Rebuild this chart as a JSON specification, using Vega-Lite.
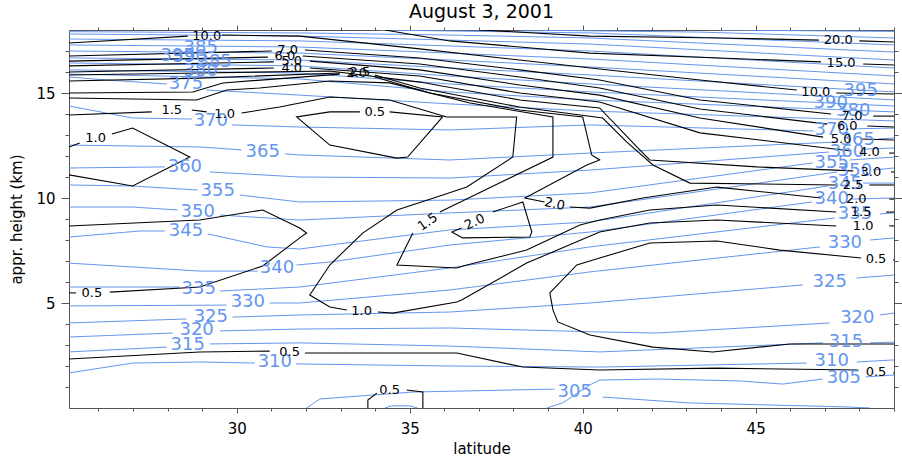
{
"$schema": "https://vega.github.io/schema/vega-lite/v6.json",
"width": 825, "height": 378,
"autosize": "none",
"padding": {"left": 69, "top": 30, "right": 8, "bottom": 50},
"background": "white",
"title": {"text": "August 3, 2001", "font": "DejaVu Sans", "fontSize": 19, "fontWeight": "normal", "color": "#000", "offset": 3},
"config": {
 "view": {"stroke": "#555", "strokeWidth": 1},
 "axis": {"grid": false, "domain": false, "tickColor": "#555", "labelColor": "#000", "labelFont": "DejaVu Sans", "labelFontSize": 15, "titleFont": "DejaVu Sans", "titleFontSize": 15, "titleFontWeight": "normal", "titleColor": "#000"}
},
"resolve": {"axis": {"x": "independent", "y": "independent"}},
"datasets": {
"k": [
{"c":"k1","x":37.03,"y":18.0},{"c":"k1","x":40.21,"y":17.71},{"c":"k1","x":43.96,"y":17.62},{"c":"k1","x":46.83,"y":17.52},
{"c":"k2","x":48.0,"y":17.48},{"c":"k2","x":49.0,"y":17.43},
{"c":"k3","x":34.28,"y":18.0},{"c":"k3","x":36.16,"y":17.48},{"c":"k3","x":40.21,"y":16.9},{"c":"k3","x":43.96,"y":16.67},{"c":"k3","x":46.89,"y":16.48},
{"c":"k4","x":48.11,"y":16.38},{"c":"k4","x":49.0,"y":16.33},
{"c":"k5","x":25.15,"y":17.38},{"c":"k5","x":28.58,"y":17.71},
{"c":"k6","x":29.57,"y":17.76},{"c":"k6","x":31.82,"y":17.71},{"c":"k6","x":35.29,"y":17.1},{"c":"k6","x":38.18,"y":16.57},{"c":"k6","x":40.49,"y":16.14},{"c":"k6","x":43.39,"y":15.62},{"c":"k6","x":46.19,"y":15.14},
{"c":"k7","x":47.33,"y":15.0},{"c":"k7","x":49.0,"y":14.95},
{"c":"k8","x":25.15,"y":16.76},{"c":"k8","x":31.01,"y":17.0},
{"c":"k9","x":31.97,"y":17.05},{"c":"k9","x":35.29,"y":16.67},{"c":"k9","x":38.18,"y":16.1},{"c":"k9","x":40.49,"y":15.62},{"c":"k9","x":43.39,"y":14.67},{"c":"k9","x":47.18,"y":14.0},
{"c":"k10","x":48.4,"y":13.9},{"c":"k10","x":49.0,"y":13.9},
{"c":"k11","x":25.15,"y":16.52},{"c":"k11","x":30.9,"y":16.71},
{"c":"k12","x":31.91,"y":16.76},{"c":"k12","x":35.29,"y":16.38},{"c":"k12","x":38.18,"y":15.76},{"c":"k12","x":40.49,"y":15.24},{"c":"k12","x":43.39,"y":14.24},{"c":"k12","x":47.07,"y":13.52},
{"c":"k13","x":48.23,"y":13.43},{"c":"k13","x":49.0,"y":13.38},
{"c":"k14","x":25.15,"y":16.29},{"c":"k14","x":31.07,"y":16.48},
{"c":"k15","x":32.11,"y":16.52},{"c":"k15","x":35.29,"y":16.1},{"c":"k15","x":38.18,"y":15.38},{"c":"k15","x":40.49,"y":14.9},{"c":"k15","x":43.39,"y":13.81},{"c":"k15","x":46.95,"y":12.9},
{"c":"k16","x":48.05,"y":12.81},{"c":"k16","x":49.0,"y":12.76},
{"c":"k17","x":25.15,"y":16.0},{"c":"k17","x":31.07,"y":16.19},
{"c":"k18","x":32.11,"y":16.19},{"c":"k18","x":35.29,"y":15.81},{"c":"k18","x":38.18,"y":15.0},{"c":"k18","x":40.49,"y":14.57},{"c":"k18","x":43.39,"y":13.1},{"c":"k18","x":47.76,"y":12.24},
{"c":"k19","x":48.86,"y":12.14},{"c":"k19","x":49.0,"y":12.14},
{"c":"k20","x":25.15,"y":15.86},{"c":"k20","x":28.93,"y":15.95},{"c":"k20","x":32.69,"y":16.05},{"c":"k20","x":35.29,"y":15.52},{"c":"k20","x":38.18,"y":14.67},{"c":"k20","x":40.49,"y":14.29},{"c":"k20","x":41.65,"y":12.29},{"c":"k20","x":41.94,"y":11.81},{"c":"k20","x":45.03,"y":11.48},{"c":"k20","x":47.82,"y":11.29},
{"c":"k21","x":48.92,"y":11.24},{"c":"k21","x":49.0,"y":11.24},
{"c":"k22","x":25.15,"y":15.57},{"c":"k22","x":28.93,"y":15.71},{"c":"k22","x":32.98,"y":15.95},
{"c":"k23","x":33.99,"y":15.86},{"c":"k23","x":35.29,"y":15.24},{"c":"k23","x":38.18,"y":14.33},{"c":"k23","x":40.58,"y":13.81},{"c":"k23","x":41.27,"y":12.67},{"c":"k23","x":42.03,"y":11.57},{"c":"k23","x":43.1,"y":10.71},{"c":"k23","x":47.33,"y":10.62},
{"c":"k24","x":48.29,"y":10.62},{"c":"k24","x":49.0,"y":10.62},
{"c":"k25","x":25.15,"y":15.0},{"c":"k25","x":28.73,"y":15.05},{"c":"k25","x":29.6,"y":15.48},{"c":"k25","x":32.98,"y":15.9},
{"c":"k26","x":33.99,"y":15.76},{"c":"k26","x":35.58,"y":15.0},{"c":"k26","x":38.18,"y":14.19},{"c":"k26","x":40.0,"y":13.86},{"c":"k26","x":40.26,"y":12.05},{"c":"k26","x":40.49,"y":11.81},{"c":"k26","x":40.12,"y":11.57},{"c":"k26","x":38.33,"y":10.0},{"c":"k26","x":38.9,"y":9.81},
{"c":"k27","x":39.63,"y":9.57},{"c":"k27","x":40.21,"y":9.52},{"c":"k27","x":41.74,"y":10.0},{"c":"k27","x":43.88,"y":10.52},{"c":"k27","x":46.89,"y":10.0},
{"c":"k28","x":48.86,"y":9.95},{"c":"k28","x":49.0,"y":9.95},
{"c":"k29","x":25.15,"y":14.76},{"c":"k29","x":28.84,"y":14.67},{"c":"k29","x":29.71,"y":15.14},{"c":"k29","x":30.66,"y":15.24},{"c":"k29","x":32.69,"y":15.57},{"c":"k29","x":34.42,"y":15.48},{"c":"k29","x":36.74,"y":14.52},{"c":"k29","x":39.14,"y":13.86},{"c":"k29","x":39.14,"y":11.95},{"c":"k29","x":35.87,"y":9.33},
{"c":"k30","x":35.09,"y":8.33},{"c":"k30","x":34.63,"y":6.81},{"c":"k30","x":36.36,"y":6.67},{"c":"k30","x":36.65,"y":6.81},{"c":"k30","x":38.38,"y":7.52},{"c":"k30","x":39.92,"y":8.71},{"c":"k30","x":40.49,"y":8.95},{"c":"k30","x":41.94,"y":9.43},{"c":"k30","x":43.88,"y":9.67},{"c":"k30","x":47.33,"y":9.33},
{"c":"k31","x":48.77,"y":9.33},{"c":"k31","x":49.0,"y":9.33},
{"c":"k32","x":25.15,"y":13.95},{"c":"k32","x":27.54,"y":14.1},
{"c":"k33","x":28.7,"y":14.19},{"c":"k33","x":29.13,"y":14.1},
{"c":"k34","x":30.14,"y":14.05},{"c":"k34","x":31.24,"y":14.33},{"c":"k34","x":32.69,"y":14.81},{"c":"k34","x":34.42,"y":14.67},{"c":"k34","x":36.07,"y":13.86},{"c":"k34","x":38.09,"y":13.86},{"c":"k34","x":37.98,"y":11.95},{"c":"k34","x":36.65,"y":10.52},{"c":"k34","x":35.78,"y":10.05},{"c":"k34","x":34.63,"y":9.43},{"c":"k34","x":33.64,"y":8.33},{"c":"k34","x":32.69,"y":6.81},{"c":"k34","x":32.11,"y":5.38},{"c":"k34","x":32.69,"y":4.81},{"c":"k34","x":33.18,"y":4.67},
{"c":"k35","x":34.08,"y":4.57},{"c":"k35","x":34.51,"y":4.52},{"c":"k35","x":36.36,"y":5.05},{"c":"k35","x":36.5,"y":5.14},{"c":"k35","x":38.38,"y":6.9},{"c":"k35","x":40.49,"y":8.38},{"c":"k35","x":41.94,"y":8.81},{"c":"k35","x":43.88,"y":8.95},{"c":"k35","x":47.33,"y":8.67},
{"c":"k36","x":48.86,"y":8.67},{"c":"k36","x":49.0,"y":8.67},
{"c":"k37","x":34.42,"y":14.1},{"c":"k37","x":35.95,"y":13.86},{"c":"k37","x":34.94,"y":11.95},{"c":"k37","x":34.63,"y":11.9},{"c":"k37","x":32.69,"y":12.52},{"c":"k37","x":31.73,"y":13.86},{"c":"k37","x":32.69,"y":14.1},{"c":"k37","x":33.56,"y":14.1},
{"c":"k38","x":26.39,"y":13.05},{"c":"k38","x":26.99,"y":13.33},{"c":"k38","x":28.64,"y":11.95},{"c":"k38","x":26.99,"y":10.57},{"c":"k38","x":25.15,"y":11.1},
{"c":"k39","x":25.15,"y":12.43},{"c":"k39","x":25.46,"y":12.62},
{"c":"k40","x":26.33,"y":5.52},{"c":"k40","x":28.93,"y":5.76},{"c":"k40","x":30.75,"y":6.76},{"c":"k40","x":31.82,"y":8.1},{"c":"k40","x":32.02,"y":8.33},{"c":"k40","x":31.82,"y":8.57},{"c":"k40","x":30.75,"y":9.43},{"c":"k40","x":28.93,"y":8.95},{"c":"k40","x":25.15,"y":8.67},
{"c":"k41","x":25.15,"y":5.48},{"c":"k41","x":25.35,"y":5.48},
{"c":"k42","x":48.05,"y":7.14},{"c":"k42","x":45.7,"y":7.52},{"c":"k42","x":43.88,"y":7.95},{"c":"k42","x":41.94,"y":7.86},{"c":"k42","x":40.49,"y":7.14},{"c":"k42","x":39.83,"y":6.81},{"c":"k42","x":39.05,"y":5.48},{"c":"k42","x":39.14,"y":4.67},{"c":"k42","x":39.28,"y":4.1},{"c":"k42","x":40.21,"y":3.48},{"c":"k42","x":42.03,"y":2.9},{"c":"k42","x":43.76,"y":2.67},{"c":"k42","x":45.99,"y":3.05},{"c":"k42","x":49.0,"y":3.05},
{"c":"k43","x":48.97,"y":7.05},{"c":"k43","x":49.0,"y":7.05},
{"c":"k44","x":25.15,"y":2.33},{"c":"k44","x":28.93,"y":2.67},{"c":"k44","x":30.95,"y":2.71},
{"c":"k45","x":31.97,"y":2.62},{"c":"k45","x":36.36,"y":2.62},{"c":"k45","x":38.27,"y":1.95},{"c":"k45","x":40.49,"y":1.81},{"c":"k45","x":43.88,"y":1.9},{"c":"k45","x":47.97,"y":1.81},
{"c":"k46","x":48.97,"y":1.67},{"c":"k46","x":49.0,"y":1.67},
{"c":"k47","x":33.79,"y":0},{"c":"k47","x":33.79,"y":0.38},{"c":"k47","x":34.05,"y":0.71},
{"c":"k48","x":34.91,"y":0.86},{"c":"k48","x":35.38,"y":0.76},{"c":"k48","x":35.38,"y":0},
{"c":"k49","x":37.4,"y":9.33},{"c":"k49","x":38.27,"y":9.81},{"c":"k49","x":38.53,"y":8.38},{"c":"k49","x":38.47,"y":8.14},{"c":"k49","x":36.53,"y":8.1},{"c":"k49","x":36.22,"y":8.38},{"c":"k49","x":36.5,"y":8.57}
],
"b": [
{"c":"b310a","x":25.15,"y":1.67},{"c":"b310a","x":26.99,"y":2.14},{"c":"b310a","x":28.93,"y":2.19},{"c":"b310a","x":30.52,"y":2.14},
{"c":"b310b","x":31.71,"y":2.1},{"c":"b310b","x":36.16,"y":2.0},{"c":"b310b","x":40.49,"y":1.95},{"c":"b310b","x":46.48,"y":2.14},
{"c":"b310c","x":47.92,"y":2.19},{"c":"b310c","x":49.0,"y":2.29},
{"c":"b315a","x":25.15,"y":2.67},{"c":"b315a","x":27.98,"y":2.9},
{"c":"b315b","x":29.22,"y":3.05},{"c":"b315b","x":31.82,"y":3.1},{"c":"b315b","x":36.16,"y":2.95},{"c":"b315b","x":40.49,"y":2.67},{"c":"b315b","x":46.95,"y":3.1},
{"c":"b315c","x":48.31,"y":3.1},{"c":"b315c","x":49.0,"y":3.14},
{"c":"b320a","x":25.15,"y":3.38},{"c":"b320a","x":28.15,"y":3.57},
{"c":"b320b","x":29.51,"y":3.67},{"c":"b320b","x":31.82,"y":3.76},{"c":"b320b","x":36.16,"y":3.81},{"c":"b320b","x":40.49,"y":3.62},{"c":"b320b","x":42.14,"y":3.57},{"c":"b320b","x":47.14,"y":4.05},
{"c":"b320c","x":48.59,"y":4.43},{"c":"b320c","x":49.0,"y":4.52},
{"c":"b325a","x":25.15,"y":4.05},{"c":"b325a","x":28.55,"y":4.24},
{"c":"b325b","x":29.88,"y":4.33},{"c":"b325b","x":31.82,"y":4.43},{"c":"b325b","x":36.16,"y":4.57},{"c":"b325b","x":40.21,"y":5.0},{"c":"b325b","x":46.36,"y":5.86},
{"c":"b325c","x":47.92,"y":6.19},{"c":"b325c","x":49.0,"y":6.33},
{"c":"b330a","x":25.15,"y":4.86},{"c":"b330a","x":29.71,"y":4.9},
{"c":"b330b","x":30.95,"y":5.0},{"c":"b330b","x":31.82,"y":5.0},{"c":"b330b","x":36.16,"y":5.62},{"c":"b330b","x":40.21,"y":6.48},{"c":"b330b","x":46.86,"y":7.67},
{"c":"b330c","x":48.31,"y":8.0},{"c":"b330c","x":49.0,"y":8.1},
{"c":"b335a","x":25.15,"y":5.76},{"c":"b335a","x":28.35,"y":5.76},
{"c":"b335b","x":29.51,"y":5.57},{"c":"b335b","x":31.82,"y":5.76},{"c":"b335b","x":36.16,"y":6.67},{"c":"b335b","x":40.21,"y":7.67},{"c":"b335b","x":47.29,"y":9.05},
{"c":"b335c","x":48.59,"y":9.24},{"c":"b335c","x":49.0,"y":9.29},
{"c":"b340a","x":25.15,"y":6.9},{"c":"b340a","x":28.93,"y":6.52},{"c":"b340a","x":30.61,"y":6.52},
{"c":"b340b","x":31.73,"y":6.81},{"c":"b340b","x":32.69,"y":6.95},{"c":"b340b","x":36.16,"y":7.76},{"c":"b340b","x":40.21,"y":8.38},{"c":"b340b","x":46.63,"y":9.81},
{"c":"b340c","x":47.78,"y":9.95},{"c":"b340c","x":49.0,"y":10.0},
{"c":"b345a","x":25.15,"y":8.14},{"c":"b345a","x":27.2,"y":8.43},{"c":"b345a","x":27.92,"y":8.43},
{"c":"b345b","x":29.16,"y":8.29},{"c":"b345b","x":30.87,"y":7.67},{"c":"b345b","x":31.82,"y":7.57},{"c":"b345b","x":32.69,"y":7.76},{"c":"b345b","x":36.16,"y":8.48},{"c":"b345b","x":40.21,"y":8.86},{"c":"b345b","x":47.09,"y":10.57},
{"c":"b345c","x":48.11,"y":10.71},{"c":"b345c","x":49.0,"y":10.71},
{"c":"b350a","x":25.15,"y":9.57},{"c":"b350a","x":26.99,"y":9.57},{"c":"b350a","x":28.29,"y":9.43},
{"c":"b350b","x":29.51,"y":9.19},{"c":"b350b","x":31.82,"y":8.95},{"c":"b350b","x":36.16,"y":9.29},{"c":"b350b","x":40.21,"y":9.57},{"c":"b350b","x":47.36,"y":11.24},
{"c":"b350c","x":48.4,"y":11.33},{"c":"b350c","x":49.0,"y":11.43},
{"c":"b355a","x":25.15,"y":10.62},{"c":"b355a","x":26.99,"y":10.57},{"c":"b355a","x":28.87,"y":10.38},
{"c":"b355b","x":30.09,"y":10.14},{"c":"b355b","x":31.82,"y":9.81},{"c":"b355b","x":36.16,"y":9.9},{"c":"b355b","x":40.21,"y":10.24},{"c":"b355b","x":46.65,"y":11.67},
{"c":"b355c","x":47.72,"y":11.81},{"c":"b355c","x":49.0,"y":11.95},
{"c":"b360a","x":25.15,"y":11.43},{"c":"b360a","x":27.92,"y":11.48},
{"c":"b360b","x":29.22,"y":11.24},{"c":"b360b","x":31.82,"y":11.0},{"c":"b360b","x":36.16,"y":10.95},{"c":"b360b","x":40.21,"y":11.33},{"c":"b360b","x":47.12,"y":12.19},
{"c":"b360c","x":48.16,"y":12.33},{"c":"b360c","x":49.0,"y":12.38},
{"c":"b365a","x":25.15,"y":12.52},{"c":"b365a","x":28.93,"y":12.43},{"c":"b365a","x":30.14,"y":12.29},
{"c":"b365b","x":31.39,"y":12.1},{"c":"b365b","x":31.82,"y":12.05},{"c":"b365b","x":36.16,"y":11.81},{"c":"b365b","x":40.21,"y":12.14},{"c":"b365b","x":47.38,"y":12.67},
{"c":"b365c","x":48.54,"y":12.81},{"c":"b365c","x":49.0,"y":12.86},
{"c":"b370a","x":25.15,"y":14.38},{"c":"b370a","x":26.99,"y":13.81},{"c":"b370a","x":28.7,"y":13.76},
{"c":"b370b","x":29.86,"y":13.48},{"c":"b370b","x":31.82,"y":13.38},{"c":"b370b","x":36.16,"y":13.24},{"c":"b370b","x":40.21,"y":13.48},{"c":"b370b","x":46.68,"y":13.19},
{"c":"b370c","x":47.72,"y":13.29},{"c":"b370c","x":49.0,"y":13.33},
{"c":"b375a","x":25.15,"y":15.76},{"c":"b375a","x":26.24,"y":15.62},{"c":"b375a","x":27.98,"y":15.43},
{"c":"b375b","x":29.13,"y":15.14},{"c":"b375b","x":31.82,"y":14.9},{"c":"b375b","x":36.16,"y":14.48},{"c":"b375b","x":40.21,"y":14.14},{"c":"b375b","x":49.0,"y":13.67},
{"c":"b380","x":25.15,"y":15.9},{"c":"b380","x":31.82,"y":15.67},{"c":"b380","x":36.16,"y":15.05},{"c":"b380","x":40.21,"y":14.67},{"c":"b380","x":49.0,"y":14.1},
{"c":"b385","x":25.15,"y":16.1},{"c":"b385","x":31.82,"y":15.95},{"c":"b385","x":36.16,"y":15.43},{"c":"b385","x":40.21,"y":15.05},{"c":"b385","x":49.0,"y":14.38},
{"c":"b390","x":25.15,"y":16.43},{"c":"b390","x":31.82,"y":16.29},{"c":"b390","x":36.16,"y":15.81},{"c":"b390","x":40.21,"y":15.43},{"c":"b390","x":49.0,"y":14.67},
{"c":"b395","x":25.15,"y":16.67},{"c":"b395","x":31.82,"y":16.57},{"c":"b395","x":36.16,"y":16.19},{"c":"b395","x":40.21,"y":15.86},{"c":"b395","x":49.0,"y":15.05},
{"c":"b400","x":25.15,"y":17.0},{"c":"b400","x":31.82,"y":16.9},{"c":"b400","x":36.16,"y":16.57},{"c":"b400","x":40.21,"y":16.24},{"c":"b400","x":49.0,"y":15.43},
{"c":"b405","x":25.15,"y":17.29},{"c":"b405","x":31.82,"y":17.19},{"c":"b405","x":36.16,"y":16.9},{"c":"b405","x":40.21,"y":16.62},{"c":"b405","x":49.0,"y":15.81},
{"c":"b410","x":25.15,"y":17.57},{"c":"b410","x":31.82,"y":17.48},{"c":"b410","x":36.16,"y":17.24},{"c":"b410","x":40.21,"y":17.0},{"c":"b410","x":49.0,"y":16.19},
{"c":"b415","x":25.15,"y":17.81},{"c":"b415","x":31.82,"y":17.71},{"c":"b415","x":36.16,"y":17.52},{"c":"b415","x":40.21,"y":17.33},{"c":"b415","x":49.0,"y":16.57},
{"c":"b420","x":25.15,"y":17.92},{"c":"b420","x":31.82,"y":17.86},{"c":"b420","x":36.16,"y":17.76},{"c":"b420","x":40.21,"y":17.62},{"c":"b420","x":49.0,"y":16.95},
{"c":"b425","x":34.13,"y":18.0},{"c":"b425","x":40.21,"y":17.86},{"c":"b425","x":49.0,"y":17.29},
{"c":"b430","x":38.18,"y":18.0},{"c":"b430","x":43.39,"y":17.9},{"c":"b430","x":49.0,"y":17.62},
{"c":"b435","x":43.96,"y":18.0},{"c":"b435","x":49.0,"y":17.93},
{"c":"b305a","x":32.02,"y":0},{"c":"b305a","x":32.4,"y":0.43},{"c":"b305a","x":35.09,"y":0.76},{"c":"b305a","x":39.19,"y":0.9},
{"c":"b305b","x":40.58,"y":0.52},{"c":"b305b","x":43.1,"y":0.24},{"c":"b305b","x":47.64,"y":0.05},{"c":"b305b","x":48.31,"y":0},
{"c":"b305c","x":38.96,"y":0},{"c":"b305c","x":39.42,"y":0.24},{"c":"b305c","x":40.21,"y":1.1},{"c":"b305c","x":40.49,"y":1.33},{"c":"b305c","x":42.14,"y":1.38},{"c":"b305c","x":44.54,"y":1.29},{"c":"b305c","x":45.78,"y":1.14},{"c":"b305c","x":46.94,"y":1.38},
{"c":"b305d","x":48.18,"y":1.48},{"c":"b305d","x":49.0,"y":1.57},
{"c":"b305e","x":34.28,"y":0},{"c":"b305e","x":34.48,"y":0.1},{"c":"b305e","x":35.0,"y":0.1},{"c":"b305e","x":35.23,"y":0}
],
"kt": [
{"t":"10.0","x":29.13,"y":17.71},{"t":"10.0","x":46.74,"y":15.05},{"t":"20.0","x":47.39,"y":17.52},{"t":"15.0","x":47.47,"y":16.43},
{"t":"7.0","x":47.79,"y":13.9},{"t":"6.0","x":47.65,"y":13.43},{"t":"5.0","x":47.47,"y":12.81},{"t":"4.0","x":48.29,"y":12.19},
{"t":"3.0","x":48.33,"y":11.24},{"t":"2.5","x":47.82,"y":10.62},{"t":"2.0","x":47.91,"y":9.95},{"t":"1.5","x":48.05,"y":9.33},
{"t":"1.0","x":48.11,"y":8.67},{"t":"0.5","x":48.48,"y":7.1},{"t":"0.5","x":48.48,"y":1.71},
{"t":"7.0","x":31.47,"y":17.05},{"t":"6.0","x":31.39,"y":16.76},{"t":"5.0","x":31.59,"y":16.52},{"t":"4.0","x":31.59,"y":16.19},
{"t":"2.0","x":33.47,"y":15.95},{"t":"2.5","x":33.56,"y":16.0},{"t":"1.5","x":28.12,"y":14.19},{"t":"1.0","x":29.65,"y":14.0},
{"t":"0.5","x":33.99,"y":14.1},{"t":"1.0","x":25.92,"y":12.86},{"t":"0.5","x":25.81,"y":5.48},{"t":"0.5","x":31.53,"y":2.67},
{"t":"1.0","x":33.61,"y":4.62},{"t":"0.5","x":34.42,"y":0.86}
],
"kr1": [{"t":"1.5","x":35.52,"y":8.86}],
"kr2": [{"t":"2.0","x":36.88,"y":8.86}],
"kr3": [{"t":"2.0","x":39.19,"y":9.71}],
"bt": [
{"t":"385","x":28.96,"y":17.14},{"t":"395","x":28.29,"y":16.76},{"t":"390","x":28.64,"y":16.71},{"t":"385","x":29.36,"y":16.48},
{"t":"380","x":28.96,"y":16.05},{"t":"375","x":28.53,"y":15.43},{"t":"370","x":29.25,"y":13.67},{"t":"365","x":30.75,"y":12.19},
{"t":"360","x":28.5,"y":11.48},{"t":"355","x":29.45,"y":10.33},{"t":"350","x":28.87,"y":9.33},{"t":"345","x":28.53,"y":8.43},
{"t":"340","x":31.16,"y":6.67},{"t":"335","x":28.9,"y":5.67},{"t":"330","x":30.32,"y":5.05},{"t":"325","x":29.25,"y":4.33},
{"t":"320","x":28.84,"y":3.71},{"t":"315","x":28.58,"y":3.0},{"t":"310","x":31.1,"y":2.19},{"t":"305","x":39.77,"y":0.76},
{"t":"395","x":48.04,"y":15.1},{"t":"390","x":47.17,"y":14.52},{"t":"380","x":47.82,"y":14.14},{"t":"370","x":47.2,"y":13.24},
{"t":"365","x":47.95,"y":12.76},{"t":"360","x":47.64,"y":12.19},{"t":"355","x":47.2,"y":11.67},{"t":"350","x":47.87,"y":11.29},
{"t":"345","x":47.58,"y":10.67},{"t":"340","x":47.2,"y":9.95},{"t":"335","x":47.87,"y":9.24},{"t":"330","x":47.58,"y":7.86},
{"t":"325","x":47.14,"y":6.0},{"t":"320","x":47.94,"y":4.29},{"t":"315","x":47.61,"y":3.14},{"t":"310","x":47.2,"y":2.24},{"t":"305","x":47.55,"y":1.43}
]
},
"layer": [
{
 "data": {"name": "b"},
 "mark": {"type": "line", "color": "#6496ee", "strokeWidth": 1, "clip": true},
 "encoding": {
  "x": {"field": "x", "type": "quantitative", "scale": {"domain": [25.15, 49], "nice": false, "zero": false},
        "axis": {"orient": "bottom", "values": [30, 35, 40, 45], "tickSize": 5, "labelPadding": 8, "title": "latitude", "titlePadding": 5, "format": "d"}},
  "y": {"field": "y", "type": "quantitative", "scale": {"domain": [0, 18], "nice": false, "zero": false},
        "axis": {"orient": "left", "values": [5, 10, 15], "tickSize": 8, "labelPadding": 6, "title": "appr. height (km)", "titlePadding": 11, "format": "d"}},
  "detail": {"field": "c"},
  "order": {"value": null}
 }
},
{
 "data": {"name": "k"},
 "mark": {"type": "line", "color": "#000", "strokeWidth": 1.1, "clip": true},
 "encoding": {
  "x": {"field": "x", "type": "quantitative", "scale": {"domain": [25.15, 49], "nice": false, "zero": false},
        "axis": {"orient": "bottom", "values": [26,27,28,29,31,32,33,34,36,37,38,39,41,42,43,44,46,47,48,49], "tickSize": 3, "labels": false, "title": null}},
  "y": {"field": "y", "type": "quantitative", "scale": {"domain": [0, 18], "nice": false, "zero": false},
        "axis": {"orient": "left", "values": [1,2,3,4,6,7,8,9,11,12,13,14,16,17], "tickSize": 4, "labels": false, "title": null}},
  "detail": {"field": "c"},
  "order": {"value": null}
 }
},
{
 "data": {"name": "bt"},
 "mark": {"type": "text", "color": "#6496ee", "font": "DejaVu Sans", "fontSize": 18, "align": "center", "baseline": "middle"},
 "encoding": {
  "x": {"field": "x", "type": "quantitative", "scale": {"domain": [25.15, 49], "nice": false, "zero": false},
        "axis": {"orient": "top", "values": [30, 35, 40, 45], "tickSize": 5, "labels": false, "title": null}},
  "y": {"field": "y", "type": "quantitative", "scale": {"domain": [0, 18], "nice": false, "zero": false},
        "axis": {"orient": "right", "values": [5, 10, 15], "tickSize": 8, "labels": false, "title": null}},
  "text": {"field": "t"}
 }
},
{
 "data": {"name": "kt"},
 "mark": {"type": "text", "color": "#000", "font": "DejaVu Sans", "fontSize": 13, "align": "center", "baseline": "middle"},
 "encoding": {
  "x": {"field": "x", "type": "quantitative", "scale": {"domain": [25.15, 49], "nice": false, "zero": false},
        "axis": {"orient": "top", "values": [26,27,28,29,31,32,33,34,36,37,38,39,41,42,43,44,46,47,48,49], "tickSize": 3, "labels": false, "title": null}},
  "y": {"field": "y", "type": "quantitative", "scale": {"domain": [0, 18], "nice": false, "zero": false},
        "axis": {"orient": "right", "values": [1,2,3,4,6,7,8,9,11,12,13,14,16,17], "tickSize": 4, "labels": false, "title": null}},
  "text": {"field": "t"}
 }
},
{
 "data": {"name": "kr1"},
 "mark": {"type": "text", "color": "#000", "font": "DejaVu Sans", "fontSize": 13, "align": "center", "baseline": "middle", "angle": 325},
 "encoding": {
  "x": {"field": "x", "type": "quantitative", "axis": null},
  "y": {"field": "y", "type": "quantitative", "axis": null},
  "text": {"field": "t"}
 }
},
{
 "data": {"name": "kr2"},
 "mark": {"type": "text", "color": "#000", "font": "DejaVu Sans", "fontSize": 13, "align": "center", "baseline": "middle", "angle": 335},
 "encoding": {
  "x": {"field": "x", "type": "quantitative", "axis": null},
  "y": {"field": "y", "type": "quantitative", "axis": null},
  "text": {"field": "t"}
 }
},
{
 "data": {"name": "kr3"},
 "mark": {"type": "text", "color": "#000", "font": "DejaVu Sans", "fontSize": 13, "align": "center", "baseline": "middle", "angle": 12},
 "encoding": {
  "x": {"field": "x", "type": "quantitative", "axis": null},
  "y": {"field": "y", "type": "quantitative", "axis": null},
  "text": {"field": "t"}
 }
}
]
}
